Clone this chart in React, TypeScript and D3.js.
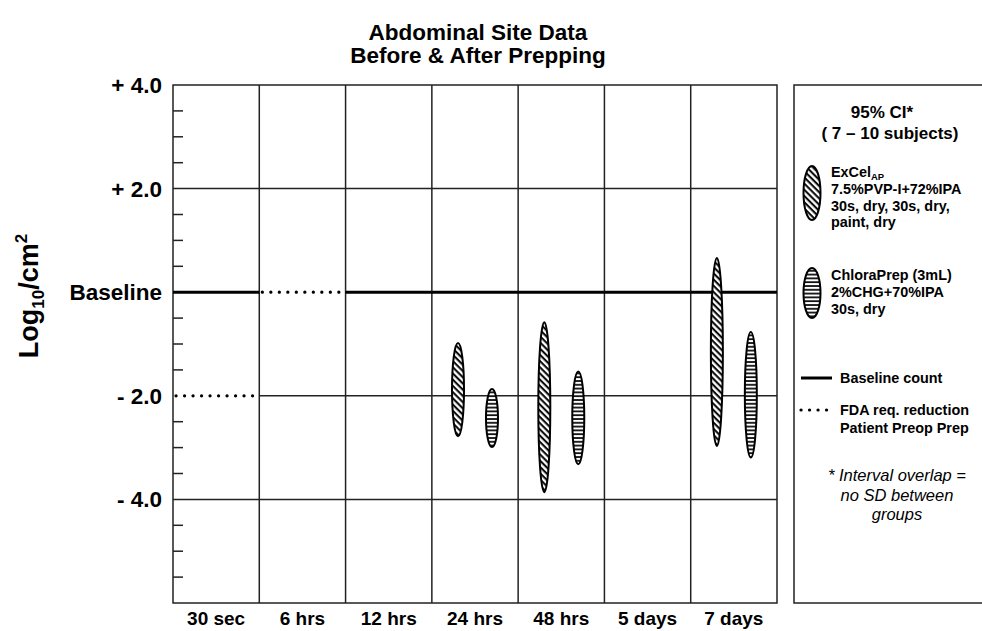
import React, { useEffect, useRef } from 'react';
import * as d3 from 'd3';

const timepoints = ['30 sec', '6 hrs', '12 hrs', '24 hrs', '48 hrs', '5 days', '7 days'];
const yTicks = [4, 2, 0, -2, -4];
const yTickLabels = ['+ 4.0', '+ 2.0', 'Baseline', '- 2.0', '- 4.0'];

// 95% CI bounds, log10/cm2 relative to baseline
const excelTimes = ['24 hrs', '48 hrs', '7 days'];
const excelLow = [-2.78, -3.86, -2.97];
const excelHigh = [-0.98, -0.58, 0.66];

const chloraTimes = ['24 hrs', '48 hrs', '7 days'];
const chloraLow = [-2.99, -3.32, -3.19];
const chloraHigh = [-1.87, -1.53, -0.77];

// FDA requirement for patient preop prep
const fdaTimes = ['30 sec', '6 hrs'];
const fdaValues = [-2, 0];

const FONT = 'Liberation Sans, Arial, Helvetica, sans-serif';

const App = () => {
  const svgRef = useRef<SVGSVGElement>(null);

  useEffect(() => {
    const root = d3.select(svgRef.current);
    root.selectAll('*').remove();

    const W = 982;
    const H = 631;
    const plot = { left: 173, right: 777, top: 85, bottom: 603 };

    const x = d3.scaleBand<string>().domain(timepoints).range([plot.left, plot.right]);
    const inner = d3.scalePoint<string>().domain(['excel', 'chlora']).range([0, x.bandwidth()]).padding(0.77);
    const y = d3.scaleLinear().domain([-6, 4]).range([plot.bottom, plot.top]);

    root.attr('width', W).attr('height', H).style('font-family', FONT);

    // hatch patterns
    const defs = root.append('defs');
    const diag = defs.append('pattern')
      .attr('id', 'diag')
      .attr('patternUnits', 'userSpaceOnUse')
      .attr('width', 10).attr('height', 4.4)
      .attr('patternTransform', 'rotate(45)');
    diag.append('rect').attr('width', 10).attr('height', 4.4).attr('fill', '#fff');
    diag.append('line').attr('x1', 0).attr('x2', 10).attr('y1', 1.1).attr('y2', 1.1)
      .attr('stroke', '#000').attr('stroke-width', 2);

    const horiz = defs.append('pattern')
      .attr('id', 'horiz')
      .attr('patternUnits', 'userSpaceOnUse')
      .attr('width', 10).attr('height', 3.8);
    horiz.append('rect').attr('width', 10).attr('height', 3.8).attr('fill', '#fff');
    horiz.append('line').attr('x1', 0).attr('x2', 10).attr('y1', 1).attr('y2', 1)
      .attr('stroke', '#000').attr('stroke-width', 1.7);

    // title
    const title = root.append('g').attr('font-weight', 'bold').attr('font-size', 22.5).attr('text-anchor', 'middle');
    title.append('text').attr('x', 478).attr('y', 40).text('Abdominal Site Data');
    title.append('text').attr('x', 478).attr('y', 63).text('Before & After Prepping');

    const g = root.append('g');
    const lineColor = '#222';

    // frame
    g.append('rect')
      .attr('x', plot.left).attr('y', plot.top)
      .attr('width', plot.right - plot.left).attr('height', plot.bottom - plot.top)
      .attr('fill', 'none').attr('stroke', lineColor).attr('stroke-width', 1.5);

    // vertical column separators
    g.selectAll('line.col')
      .data(timepoints.slice(1))
      .join('line')
      .attr('x1', d => x(d)!).attr('x2', d => x(d)!)
      .attr('y1', plot.top).attr('y2', plot.bottom)
      .attr('stroke', lineColor).attr('stroke-width', 1.5);

    // horizontal grid at +2, -2, -4 per column (FDA segments replace grid)
    const fdaMap = new Map(fdaTimes.map((t, i) => [t, fdaValues[i]]));
    const gridSegs: { t: string; v: number }[] = [];
    [2, -2, -4].forEach(v => timepoints.forEach(t => {
      if (fdaMap.get(t) !== v) gridSegs.push({ t, v });
    }));
    g.selectAll('line.grid')
      .data(gridSegs)
      .join('line')
      .attr('x1', d => x(d.t)!).attr('x2', d => x(d.t)! + x.bandwidth())
      .attr('y1', d => y(d.v)).attr('y2', d => y(d.v))
      .attr('stroke', lineColor).attr('stroke-width', 1.5);

    // baseline (solid, thick) except where FDA requirement is baseline
    g.selectAll('line.base')
      .data(timepoints.filter(t => fdaMap.get(t) !== 0))
      .join('line')
      .attr('x1', d => x(d)!).attr('x2', d => x(d)! + x.bandwidth())
      .attr('y1', y(0)).attr('y2', y(0))
      .attr('stroke', '#000').attr('stroke-width', 3);

    // FDA dotted segments
    g.selectAll('line.fda')
      .data(fdaTimes)
      .join('line')
      .attr('x1', d => x(d)! + 3).attr('x2', d => x(d)! + x.bandwidth() - 3)
      .attr('y1', (d, i) => y(fdaValues[i])).attr('y2', (d, i) => y(fdaValues[i]))
      .attr('stroke', '#000').attr('stroke-width', 3.2)
      .attr('stroke-linecap', 'round').attr('stroke-dasharray', '0.1 8.4');

    // minor ticks
    const minor = d3.range(-5.5, 4, 0.5).filter(v => Math.abs(v % 2) > 0.01);
    g.selectAll('line.minor')
      .data(minor)
      .join('line')
      .attr('x1', plot.left).attr('x2', plot.left + 10)
      .attr('y1', d => y(d)).attr('y2', d => y(d))
      .attr('stroke', lineColor).attr('stroke-width', 1.5);

    // y tick labels
    g.selectAll('text.ytick')
      .data(yTicks)
      .join('text')
      .attr('x', 162).attr('y', d => y(d) + 8)
      .attr('text-anchor', 'end').attr('font-weight', 'bold').attr('font-size', 22.5)
      .text((d, i) => yTickLabels[i]);

    // x labels
    g.selectAll('text.xtick')
      .data(timepoints)
      .join('text')
      .attr('x', d => x(d)! + x.bandwidth() / 2).attr('y', 625)
      .attr('text-anchor', 'middle').attr('font-weight', 'bold').attr('font-size', 19)
      .text(d => d);

    // y axis title
    const yt = root.append('text')
      .attr('transform', `translate(38,296) rotate(-90)`)
      .attr('text-anchor', 'middle').attr('font-weight', 'bold').attr('font-size', 27);
    yt.append('tspan').text('Log');
    yt.append('tspan').attr('font-size', 17).attr('dy', 6).text('10');
    yt.append('tspan').attr('dy', -6).text('/cm');
    yt.append('tspan').attr('font-size', 17).attr('dy', -11).text('2');

    // CI ellipses
    const drawEllipses = (times: string[], lo: number[], hi: number[], key: string, fill: string) => {
      g.selectAll(`ellipse.${key}`)
        .data(times.map((t, i) => ({ t, lo: lo[i], hi: hi[i] })))
        .join('ellipse')
        .attr('cx', d => x(d.t)! + inner(key)!)
        .attr('cy', d => (y(d.lo) + y(d.hi)) / 2)
        .attr('rx', 6)
        .attr('ry', d => (y(d.lo) - y(d.hi)) / 2)
        .attr('fill', fill)
        .attr('stroke', '#000').attr('stroke-width', 2);
    };
    drawEllipses(excelTimes, excelLow, excelHigh, 'excel', 'url(#diag)');
    drawEllipses(chloraTimes, chloraLow, chloraHigh, 'chlora', 'url(#horiz)');

    // legend
    const lg = root.append('g');
    lg.append('rect')
      .attr('x', 794).attr('y', plot.top).attr('width', 200).attr('height', plot.bottom - plot.top)
      .attr('fill', 'none').attr('stroke', lineColor).attr('stroke-width', 1.5);

    const lgHead = lg.append('g').attr('font-weight', 'bold').attr('font-size', 17).attr('text-anchor', 'middle');
    lgHead.append('text').attr('x', 882).attr('y', 118).text('95% CI*');
    lgHead.append('text').attr('x', 890).attr('y', 139).text('( 7 – 10 subjects)');

    lg.append('ellipse').attr('cx', 812).attr('cy', 193).attr('rx', 8.5).attr('ry', 27)
      .attr('fill', 'url(#diag)').attr('stroke', '#000').attr('stroke-width', 2);
    lg.append('ellipse').attr('cx', 812).attr('cy', 293).attr('rx', 8.5).attr('ry', 25)
      .attr('fill', 'url(#horiz)').attr('stroke', '#000').attr('stroke-width', 2);

    const item = lg.append('g').attr('font-weight', 'bold').attr('font-size', 14.4);
    const ex = item.append('text').attr('x', 831).attr('y', 177);
    ex.append('tspan').text('ExCel');
    ex.append('tspan').attr('font-size', 9.5).attr('dy', 3).text('AP');
    ['7.5%PVP-I+72%IPA', '30s, dry, 30s, dry,', 'paint, dry'].forEach((s, i) => {
      item.append('text').attr('x', 831).attr('y', 194 + i * 16.7).text(s);
    });
    ['ChloraPrep (3mL)', '2%CHG+70%IPA', '30s, dry'].forEach((s, i) => {
      item.append('text').attr('x', 831).attr('y', 280 + i * 17).text(s);
    });

    lg.append('line').attr('x1', 801).attr('x2', 832).attr('y1', 378).attr('y2', 378)
      .attr('stroke', '#000').attr('stroke-width', 3);
    item.append('text').attr('x', 840).attr('y', 383).text('Baseline count');
    lg.append('line').attr('x1', 801).attr('x2', 832).attr('y1', 410).attr('y2', 410)
      .attr('stroke', '#000').attr('stroke-width', 3.2)
      .attr('stroke-linecap', 'round').attr('stroke-dasharray', '0.1 8.4');
    item.append('text').attr('x', 840).attr('y', 415).text('FDA req. reduction');
    item.append('text').attr('x', 840).attr('y', 433).text('Patient Preop Prep');

    const note = lg.append('g').attr('font-style', 'italic').attr('font-size', 16.5).attr('text-anchor', 'middle');
    ['* Interval overlap =', 'no SD between', 'groups'].forEach((s, i) => {
      note.append('text').attr('x', 897).attr('y', 481 + i * 19.5).text(s);
    });
  }, []);

  return (
    <svg ref={svgRef} style={{ position: 'absolute', left: 0, top: 0, background: '#fff' }}></svg>
  );
};

export default App;
